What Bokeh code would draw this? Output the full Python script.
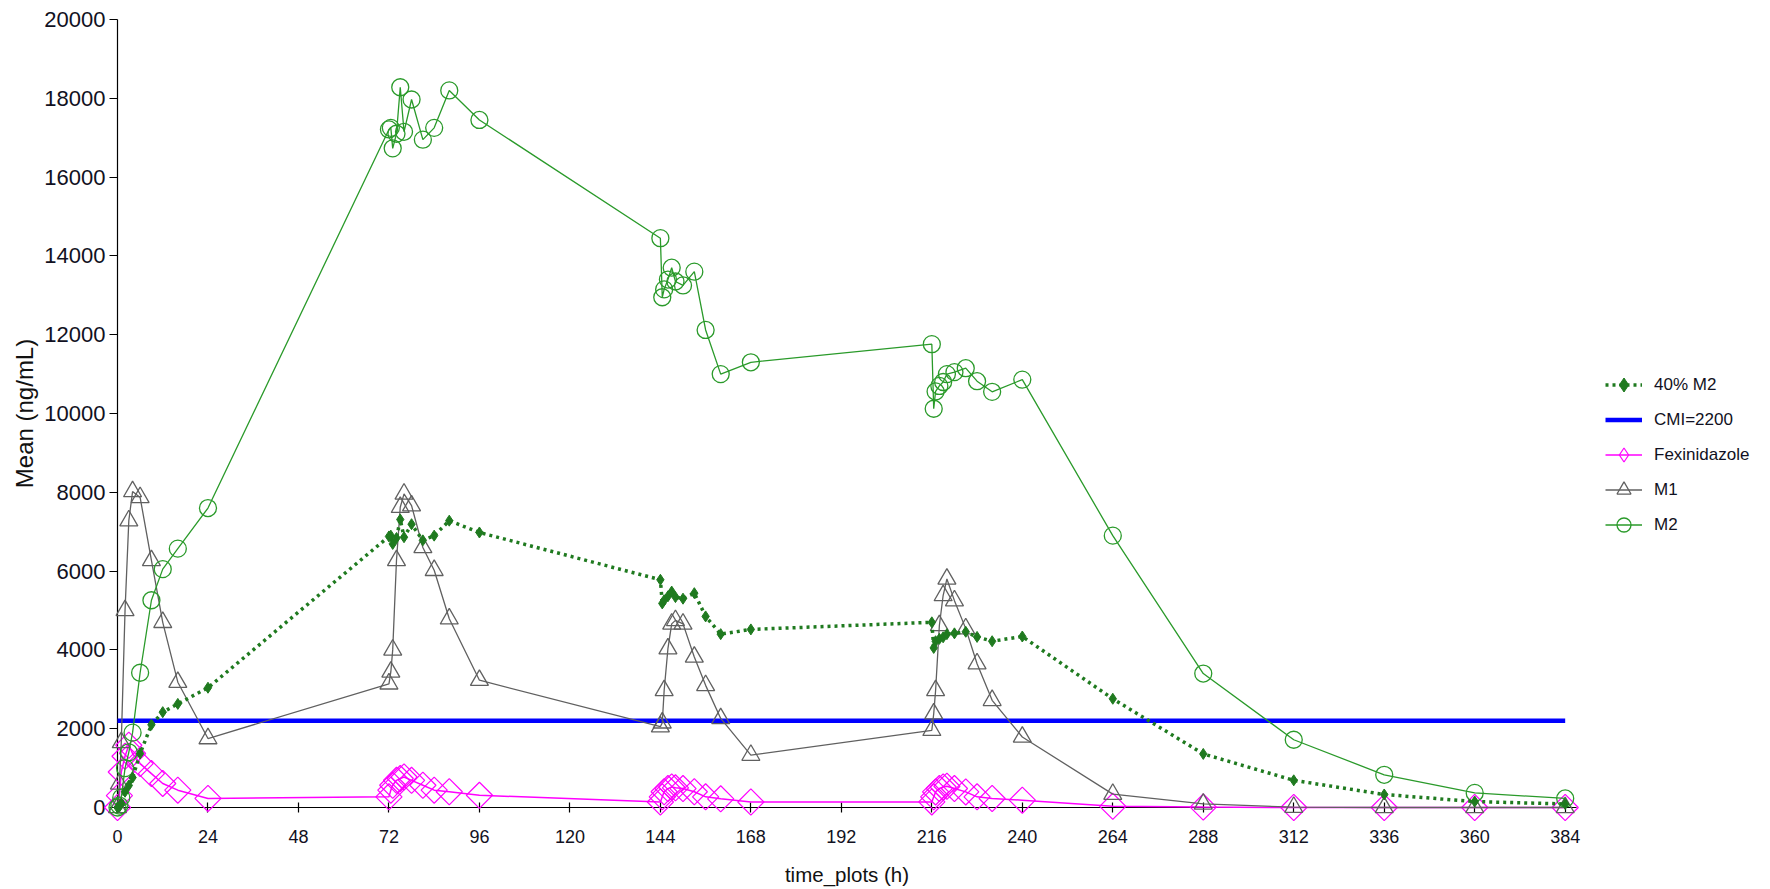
import math
from bokeh.plotting import figure
from bokeh.layouts import row
from bokeh.models import Legend, LegendItem, FixedTicker, NumeralTickFormatter
from bokeh.embed import file_html
from bokeh.resources import INLINE

# ---- data ----
times = [0, 0.5, 1, 2, 3, 4, 6, 9, 12, 16, 24,
         72, 72.5, 73, 74, 75, 76, 78, 81, 84, 88, 96,
         144, 144.5, 145, 146, 147, 148, 150, 153, 156, 160, 168,
         216, 216.5, 217, 218, 219, 220, 222, 225, 228, 232, 240,
         264, 288, 312, 336, 360, 384]

m2 = [0, 50, 250, 1000, 1400, 1900, 3420, 5260, 6050, 6570, 7600,
      17210, 17250, 16730, 17100, 18280, 17150, 17970, 16950, 17250, 18200, 17450,
      14450, 12950, 13150, 13400, 13700, 13350, 13250, 13600, 12120, 11000, 11300,
      11760, 10120, 10560, 10700, 10800, 11000, 11050, 11150, 10820, 10550, 10860,
      6900, 3400, 1720, 830, 370, 230]

m2_40 = [0, 20, 100, 400, 560, 760, 1370, 2100, 2420, 2630, 3040,
         6880, 6900, 6690, 6840, 7310, 6860, 7190, 6780, 6900, 7280, 6980,
         5780, 5180, 5260, 5360, 5480, 5340, 5300, 5440, 4850, 4400, 4520,
         4700, 4050, 4220, 4280, 4320, 4400, 4420, 4460, 4330, 4220, 4340,
         2760, 1360, 690, 330, 150, 90]

m1 = [0, 600, 1650, 5000, 7280, 8020, 7870, 6270, 4700, 3180, 1750,
      3140, 3440, 4000, 6270, 7620, 7960, 7660, 6600, 6020, 4790, 3230,
      2050, 2150, 2970, 4030, 4660, 4750, 4660, 3820, 3100, 2260, 1330,
      1960, 2380, 2970, 4620, 5380, 5800, 5250, 4540, 3650, 2720, 1790,
      340, 90, 10, 0, 0, 0]

fex = [0, 300, 900, 1300, 1580, 1370, 1115, 860, 610, 440, 230,
       270, 440, 565, 690, 735, 775, 690, 565, 440, 400, 310,
       140, 270, 400, 480, 520, 500, 480, 400, 270, 220, 140,
       142, 270, 396, 481, 520, 540, 481, 396, 270, 228, 186,
       30, 10, 0, 0, 0, 0]

cmi_value = 2200
cmi_x = [0, 384]

x_ticks = [0, 24, 48, 72, 96, 120, 144, 168, 192, 216, 240, 264, 288, 312, 336, 360, 384]
y_ticks = [0, 2000, 4000, 6000, 8000, 10000, 12000, 14000, 16000, 18000, 20000]

labels = ["40% M2", "CMI=2200", "Fexinidazole", "M1", "M2"]

# ---- colours ----
C_M2 = "#2a9a2a"
C_M240 = "#1f7a1f"
C_M1 = "#606060"
C_FEX = "#ff00ff"
C_CMI = "#0000ff"
FONT = "Liberation Sans"

p = figure(width=1596, height=889, output_backend="svg", toolbar_location=None,
           x_range=(0, 387), y_range=(0, 20000),
           min_border_left=117, min_border_right=20, min_border_top=19, min_border_bottom=82)
p.outline_line_color = None
p.xgrid.visible = False
p.ygrid.visible = False
p.background_fill_color = "white"
p.border_fill_color = "white"

# axes
p.xaxis.ticker = FixedTicker(ticks=x_ticks)
p.yaxis.ticker = FixedTicker(ticks=y_ticks)
p.yaxis.formatter = NumeralTickFormatter(format="0")
for ax in (p.xaxis, p.yaxis):
    ax.axis_line_color = "black"
    ax.axis_line_width = 1.2
    ax.major_tick_line_color = "black"
    ax.major_tick_line_width = 1.2
    ax.minor_tick_line_color = None
    ax.major_label_text_font = FONT
    ax.major_label_text_color = "#111122"
    ax.axis_label_text_font = FONT
    ax.axis_label_text_font_style = "normal"
    ax.axis_label_text_color = "#111111"
p.xaxis.major_label_text_font_size = "18px"
p.yaxis.major_label_text_font_size = "22px"
p.xaxis.axis_label_text_font_size = "20.5px"
p.yaxis.axis_label_text_font_size = "24px"
p.xaxis.major_tick_in = 5
p.xaxis.major_tick_out = 5
p.yaxis.major_tick_in = 0
p.yaxis.major_tick_out = 8
p.xaxis.major_label_standoff = 17
p.yaxis.major_label_standoff = 4
p.xaxis.axis_label = "time_plots (h)"
p.yaxis.axis_label = "Mean (ng/mL)"
p.xaxis.axis_label_standoff = 17
p.yaxis.axis_label_standoff = 3

# styles
cmi_style = dict(line_color=C_CMI, line_width=4.5)
fex_line = dict(line_color=C_FEX, line_width=1.5)
fex_mark = dict(fill_color=None, line_color=C_FEX, line_width=1.2)
m1_line = dict(line_color=C_M1, line_width=1.3)
m1_mark = dict(marker="triangle", fill_color=None, line_color=C_M1, line_width=1.3)
m2_line = dict(line_color=C_M2, line_width=1.3)
m2_mark = dict(marker="circle", fill_color=None, line_color=C_M2, line_width=1.3)
m40_line = dict(line_color=C_M240, line_width=3.5, line_dash="3 4")
m40_mark = dict(marker="diamond", fill_color=C_M240, line_color=C_M240)

# ---- main plot ----
p.line(cmi_x, [cmi_value, cmi_value], level="overlay", **cmi_style)
p.line(times, fex, level="overlay", **fex_line)
p.scatter(times, fex, marker="square", angle=math.pi / 4, size=18.5, level="overlay", **fex_mark)
p.line(times, m1, level="overlay", **m1_line)
p.scatter(times, m1, size=18, level="overlay", **m1_mark)
p.line(times, m2, level="overlay", **m2_line)
p.scatter(times, m2, size=17, level="overlay", **m2_mark)
p.line(times, m2_40, level="overlay", **m40_line)
p.scatter(times, m2_40, size=11, level="overlay", **m40_mark)

# ---- legend panel (separate figure on the right; its series lie outside its view) ----
q = figure(width=174, height=889, output_backend="svg", toolbar_location=None,
           x_range=(-20, -10), y_range=(-20000, -10000), min_border=0,
           x_axis_location=None, y_axis_location=None)
q.outline_line_color = None
q.xgrid.visible = False
q.ygrid.visible = False
q.background_fill_color = "white"
q.border_fill_color = "white"

l40 = q.line(times, m2_40, **m40_line)
s40 = q.scatter(times, m2_40, **m40_mark)
lc = q.line(cmi_x, [cmi_value, cmi_value], **cmi_style)
lf = q.line(times, fex, **fex_line)
sf = q.scatter(times, fex, marker="diamond", **fex_mark)
l1 = q.line(times, m1, **m1_line)
s1 = q.scatter(times, m1, **m1_mark)
l2 = q.line(times, m2, **m2_line)
s2 = q.scatter(times, m2, **m2_mark)

legend = Legend(items=[
    LegendItem(label=labels[0], renderers=[l40, s40]),
    LegendItem(label=labels[1], renderers=[lc]),
    LegendItem(label=labels[2], renderers=[lf, sf]),
    LegendItem(label=labels[3], renderers=[l1, s1]),
    LegendItem(label=labels[4], renderers=[l2, s2]),
], location=(9, 265))
legend.border_line_color = None
legend.background_fill_alpha = 0
legend.padding = 0
legend.margin = 0
legend.spacing = 0
legend.glyph_width = 37
legend.glyph_height = 35
legend.label_height = 35
legend.label_standoff = 12
legend.label_text_font = FONT
legend.label_text_font_size = "17px"
legend.label_text_color = "#111122"
q.add_layout(legend)

open("out.html", "w").write(file_html(row(p, q), INLINE))
